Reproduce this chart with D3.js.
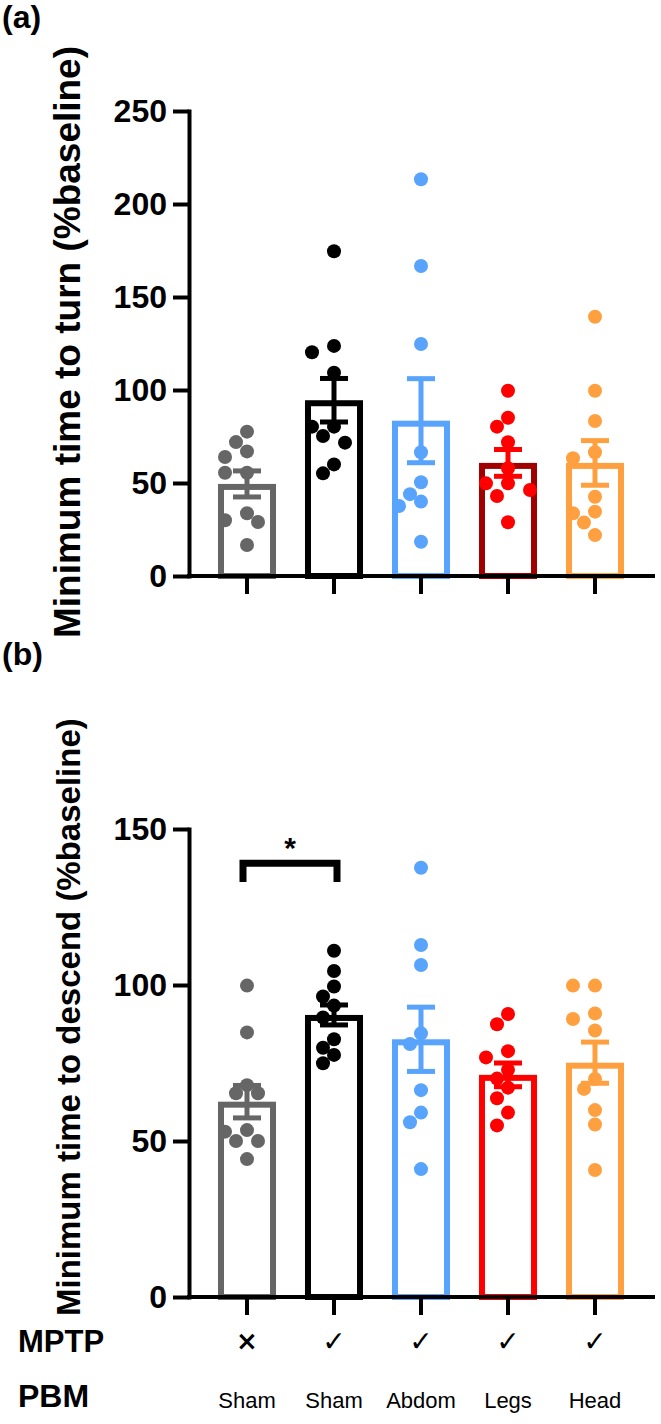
<!DOCTYPE html>
<html><head><meta charset="utf-8">
<script src="https://cdn.jsdelivr.net/npm/d3@7"></script>
<style>body{margin:0;background:#fff}</style>
</head><body>
<svg id="chart" width="661" height="1424"></svg>
<script>
// ---------- data ----------
const groups = ["g1", "g2", "g3", "g4", "g5"];
const mptpLabels = ["×", "✓", "✓", "✓", "✓"];
const pbmLabels = ["Sham", "Sham", "Abdom", "Legs", "Head"];
const turnTicks = [0, 50, 100, 150, 200, 250];
const descendTicks = [0, 50, 100, 150];

const turnMean = [49.5, 94.5, 83.5, 60.8, 60.8];
const turnSem = [7, 11.7, 22.6, 7.2, 12];
const turnPoints = [
  [77.6, 72, 67, 64, 55.5, 55.5, 33.7, 29, 30, 16.7],
  [174.6, 123.7, 120.3, 109.3, 80.3, 80.3, 75.3, 71.7, 60, 55.2],
  [213.3, 166.7, 124.7, 66.5, 50.4, 44, 40, 37.6, 18.4],
  [99.6, 85.1, 80.3, 71.9, 57.9, 49.8, 49.8, 46.2, 43, 28.9],
  [139.4, 99.6, 83.3, 66.5, 63.3, 42.6, 34.6, 33.7, 28.7, 22]
];

const descendMean = [62.6, 90.4, 82.6, 71.2, 75.1];
const descendSem = [5.2, 3.2, 10.3, 3.8, 6.6];
const descendPoints = [
  [99.8, 84.8, 67.9, 65.3, 65.3, 53.5, 53, 50, 50, 44.2],
  [111, 104.5, 99.5, 96.3, 93.4, 89.6, 82.6, 79.9, 77.6, 74.9],
  [137.6, 112.8, 106.4, 84.5, 81.1, 66.3, 59.1, 56, 41],
  [90.7, 87.4, 78.8, 76.8, 72.8, 70, 67.1, 63.7, 59.1, 55],
  [99.8, 99.8, 90.9, 89.1, 85.4, 69.9, 66.7, 59.9, 55.3, 40.7]
];
const sigPair = ["g1", "g2"];
const sigLabel = "*";
const sigLevels = [139, 133];   // bracket top, leg bottom (data units)

// ---------- styling ----------
const pointColors = ["#666666", "#000000", "#58A3FC", "#FF0000", "#FFA040"];
const turnBarColors = ["#666666", "#000000", "#58A3FC", "#A00000", "#FFA040"];
const descendBarColors = ["#666666", "#000000", "#58A3FC", "#FF0000", "#FFA040"];
const FONT = "'Liberation Sans', Arial, sans-serif";

const svg = d3.select("#chart");
const axisX = 189;
const axisRight = 655;

const x = d3.scaleBand().domain(groups).range([203.5, 638.5]).paddingInner(0.333).paddingOuter(0.1665);
const cx = g => x(g) + x.bandwidth() / 2;
const R = 7;

function swarm(values, center, y, r, step) {
  const placed = [];
  const order = values.map((v, i) => i).sort((a, b) => values[b] - values[a]);
  order.forEach(i => {
    const py = y(values[i]);
    for (let k = 0; k < 40; k++) {
      const off = k === 0 ? 0 : (k % 2 ? -1 : 1) * Math.ceil(k / 2) * step;
      const px = center + off;
      if (placed.every(p => Math.hypot(p.x - px, p.y - py) >= 2 * r - 1)) {
        placed.push({ x: px, y: py });
        break;
      }
    }
  });
  return placed;
}

function panel(opts) {
  const { y0, y1, max, ticks, means, sems, points, barColors, title, titleSize, titleY, titleAnchor, letter, letterY } = opts;
  const y = d3.scaleLinear().domain([0, max]).range([y0, y1]);
  const g = svg.append("g");

  // bars
  g.selectAll("rect.bar").data(groups).join("rect")
    .attr("x", d => x(d) + 3).attr("width", x.bandwidth() - 6)
    .attr("y", (d, i) => y(means[i]) + 3).attr("height", (d, i) => y(0) - y(means[i]) - 3)
    .attr("fill", "#fff").attr("stroke", (d, i) => barColors[i]).attr("stroke-width", 6);

  // points
  groups.forEach((gid, i) => {
    const pts = swarm(points[i], cx(gid), y, R, 11);
    g.selectAll(null).data(pts).join("circle")
      .attr("cx", d => d.x).attr("cy", d => d.y).attr("r", R)
      .attr("fill", pointColors[i]);
  });

  // error bars
  groups.forEach((gid, i) => {
    const c = cx(gid), col = pointColors[i];
    const top = y(means[i] + sems[i]), bot = y(means[i] - sems[i]);
    g.append("line").attr("x1", c).attr("x2", c).attr("y1", top).attr("y2", bot)
      .attr("stroke", col).attr("stroke-width", 5);
    [top, bot].forEach(yy => g.append("line").attr("x1", c - 14).attr("x2", c + 14)
      .attr("y1", yy).attr("y2", yy).attr("stroke", col).attr("stroke-width", 5));
  });

  // y axis
  const ya = g.append("g").attr("transform", `translate(${axisX},0)`)
    .call(d3.axisLeft(y).tickValues(ticks).tickSize(16).tickPadding(6).tickSizeOuter(0));
  ya.select(".domain").attr("stroke-width", 4).attr("stroke-linecap", "square");
  ya.selectAll(".tick line").attr("stroke-width", 4);
  ya.selectAll(".tick text").attr("font-family", FONT).attr("font-size", 32)
    .attr("font-weight", "bold").attr("fill", "#000");

  // x axis
  const xa = g.append("g").attr("transform", `translate(0,${y0})`)
    .call(d3.axisBottom(x).tickSize(18).tickFormat("").tickSizeOuter(0));
  xa.select(".domain").remove();
  xa.selectAll(".tick line").attr("stroke-width", 4);
  g.append("line").attr("x1", axisX - 2).attr("x2", axisRight).attr("y1", y0).attr("y2", y0)
    .attr("stroke", "#000").attr("stroke-width", 4);

  // title
  g.append("text").attr("transform", `translate(80,${titleY}) rotate(-90)`)
    .attr("text-anchor", titleAnchor).attr("font-family", FONT).attr("font-weight", "bold")
    .attr("font-size", titleSize).text(title);

  svg.append("text").attr("x", 2).attr("y", letterY).attr("font-family", FONT)
    .attr("font-weight", "bold").attr("font-size", 32).text(letter);
  return y;
}

panel({ y0: 576, y1: 111, max: 250, ticks: turnTicks, means: turnMean, sems: turnSem,
  points: turnPoints, barColors: turnBarColors, title: "Minimum time to turn (%baseline)",
  titleSize: 37, titleY: 342, titleAnchor: "middle",
  letter: "(a)", letterY: 28 });

const yB = panel({ y0: 1297, y1: 829, max: 150, ticks: descendTicks, means: descendMean, sems: descendSem,
  points: descendPoints, barColors: descendBarColors, title: "Minimum time to descend (%baseline)",
  titleSize: 33, titleY: 1316, titleAnchor: "start",
  letter: "(b)", letterY: 665 });

// significance bracket
const bx1 = cx(sigPair[0]) - 4, bx2 = cx(sigPair[1]) + 3;
svg.append("path")
  .attr("d", `M${bx1},${yB(sigLevels[1])}V${yB(sigLevels[0])}H${bx2}V${yB(sigLevels[1])}`)
  .attr("fill", "none").attr("stroke", "#000").attr("stroke-width", 7);
svg.append("text").attr("x", (bx1 + bx2) / 2).attr("y", yB(sigLevels[0]) - 5)
  .attr("text-anchor", "middle").attr("font-family", FONT).attr("font-weight", "bold")
  .attr("font-size", 30).text(sigLabel);

// bottom labels
svg.append("text").attr("x", 18).attr("y", 1352).attr("font-family", FONT)
  .attr("font-weight", "bold").attr("font-size", 31).text("MPTP");
svg.append("text").attr("x", 18).attr("y", 1407).attr("font-family", FONT)
  .attr("font-weight", "bold").attr("font-size", 32).text("PBM");
svg.selectAll("text.mptp").data(groups).join("text").attr("class", "mptp")
  .attr("x", d => cx(d)).attr("y", (d, i) => i === 0 ? 1350 : 1351)
  .attr("text-anchor", "middle").attr("font-family", "'DejaVu Sans', sans-serif")
  .attr("font-weight", (d, i) => i === 0 ? "bold" : "normal")
  .attr("font-size", (d, i) => i === 0 ? 26 : 28)
  .text((d, i) => mptpLabels[i]);
svg.selectAll("text.pbm").data(groups).join("text").attr("class", "pbm")
  .attr("x", d => cx(d)).attr("y", 1408)
  .attr("text-anchor", "middle").attr("font-family", FONT)
  .attr("font-size", 22).text((d, i) => pbmLabels[i]);
</script>
</body></html>
